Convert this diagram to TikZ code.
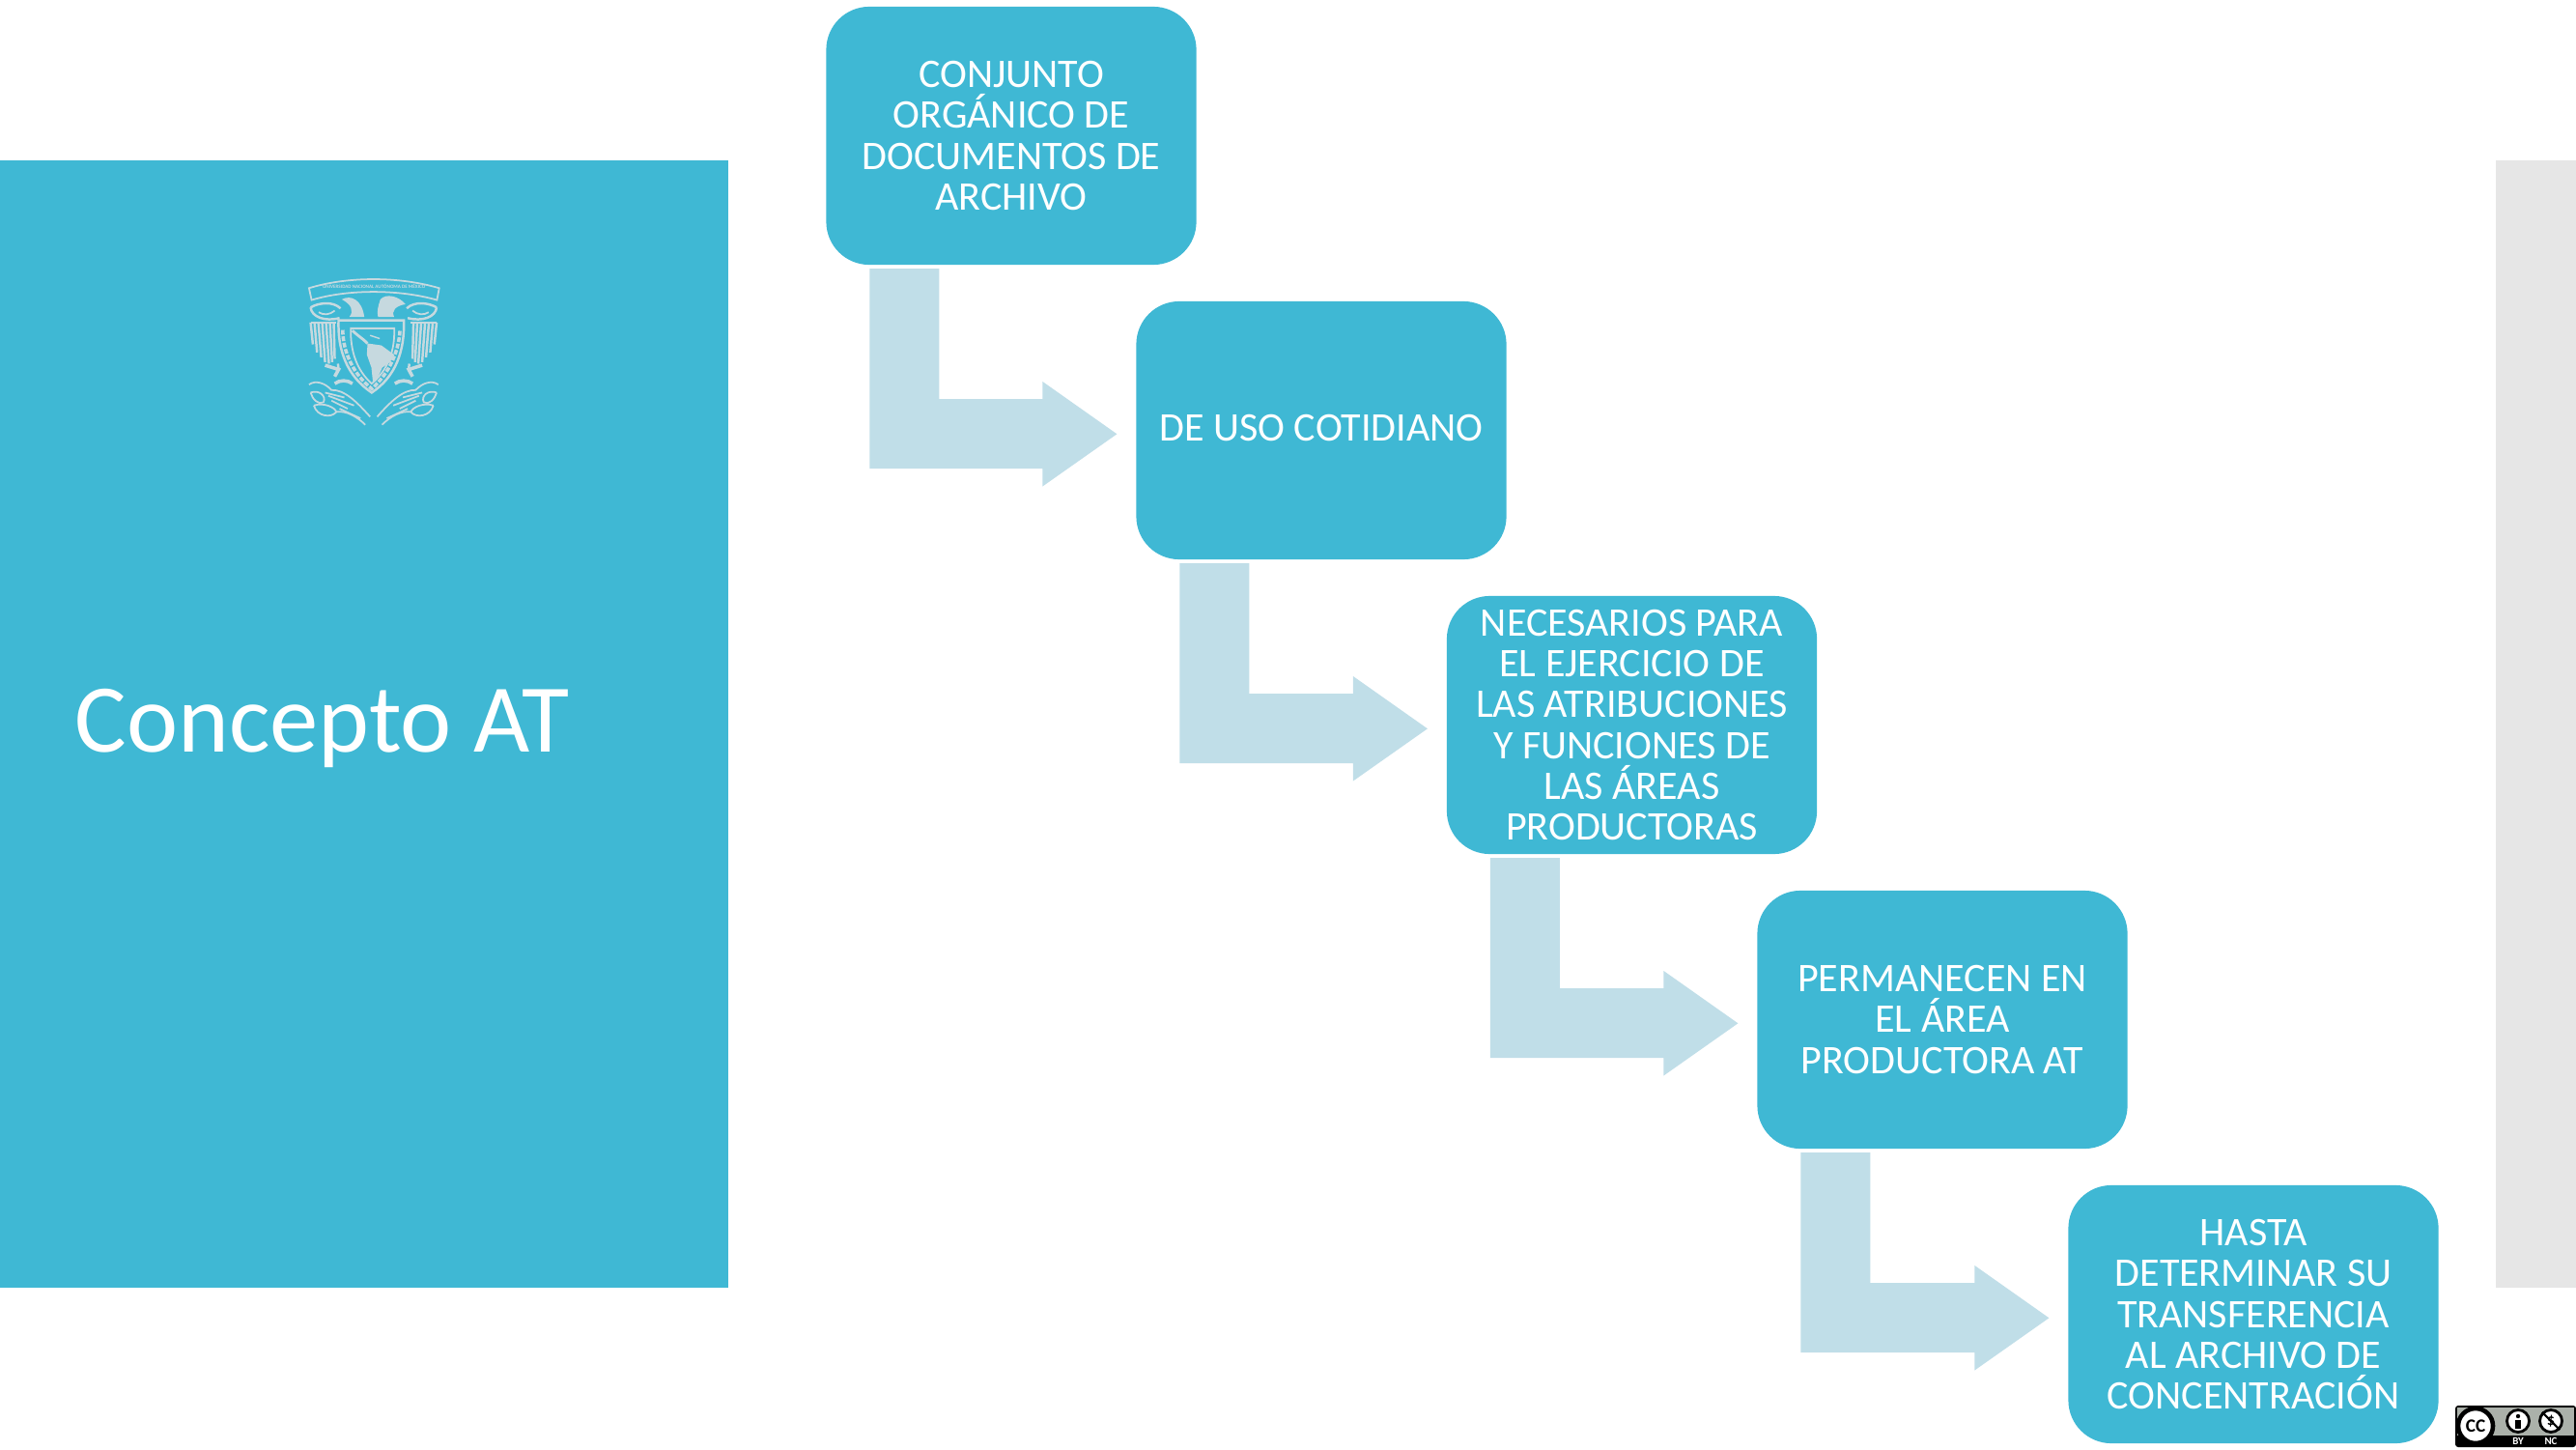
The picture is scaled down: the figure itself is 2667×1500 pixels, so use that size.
\documentclass[tikz,border=0pt]{standalone}
\usepackage{fontspec}
\setmainfont{Carlito}
\usetikzlibrary{calc}
\definecolor{panelblue}{HTML}{3FB8D4}
\definecolor{arrowblue}{HTML}{C0DEE8}
\definecolor{sidegrey}{HTML}{E6E6E6}
\definecolor{crest}{HTML}{C6D9DF}
\definecolor{ccgrey}{HTML}{ABB1AA}
\tikzset{
  stepbox/.style={fill=panelblue,rounded corners=0.445cm,minimum width=3.83cm,minimum height=2.67cm,
    inner sep=0pt,outer sep=0pt,text=white,align=center,font=\fontsize{11.95pt}{12.05pt}\selectfont},
  bentarrow/.style={fill=arrowblue,draw=none},
  crestline/.style={draw=crest,line width=0.5pt,fill=none},
  ccmark/.style={draw=black,fill=white,line width=0.8pt},
  cclabel/.style={text=white,inner sep=0pt,font=\fontsize{3.1pt}{3.5pt}\selectfont\bfseries}
}
\newcommand{\bentlink}[2]{%
  \fill[bentarrow]
    ($(#1.south west)+(45,4)$) -- ($(#1.south west)+(117,4)$) -- ($(#1.south west)+(117,139)$)
    -- ($(#2.west)+(-97,-32.5)$) -- ($(#2.west)+(-97,-50.5)$) -- ($(#2.west)+(-20,3.8)$)
    -- ($(#2.west)+(-97,58)$) -- ($(#2.west)+(-97,39.5)$) -- ($(#1.south west)+(45,211)$) -- cycle;
}
\newcommand{\halfcrest}{%
  % wing feathers
  \foreach \xa/\ya/\xb/\yb in {125/222/132/290,137/222/145/315,149/222/158/330,161/222/170/345,173/222/182/350,185/222/192/345,197/222/200/335}
    {\draw[crestline,line width=0.7pt] (\xa,\ya) -- (\xb,\yb);}
  \draw[crestline] (125,222) -- (205,222);
  % wing top swirl
  \draw[crestline,line width=0.7pt] (125,175) .. controls (150,160) and (195,155) .. (218,178);
  \draw[crestline,line width=0.7pt] (125,175) .. controls (128,205) and (170,220) .. (215,208);
  \draw[crestline] (150,190) .. controls (165,200) and (185,198) .. (200,185);
  % talon
  \draw[crestline,line width=1pt] (170,355) -- (212,368) -- (200,390);
  \draw[crestline,line width=0.7pt] (210,350) -- (212,368);
  % small blocks below shield
  \draw[crestline,line width=1pt] (200,412) .. controls (215,400) and (240,400) .. (255,412);
  % cactus
  \draw[crestline] (120,415) .. controls (140,400) and (170,410) .. (190,432) .. controls (230,430) and (270,470) .. (310,515);
  \draw[crestline] (125,440) .. controls (150,430) and (175,450) .. (165,470) .. controls (150,480) and (130,460) .. (125,440);
  \draw[crestline] (135,480) .. controls (165,470) and (200,485) .. (205,500) .. controls (190,520) and (145,515) .. (135,480);
  \draw[crestline] (205,500) .. controls (235,495) and (270,515) .. (295,540);
  \draw[crestline] (180,450) -- (260,480) (190,465) -- (240,490) (170,440) -- (230,455) (215,490) -- (280,520);
}
\begin{document}
\begin{tikzpicture}[x=0.01cm,y=-0.01cm]
\useasboundingbox (0,0) rectangle (2667,1500);
\fill[white] (0,0) rectangle (2667,1500);
\fill[panelblue] (0,166) rectangle (754,1333);
\fill[sidegrey] (2584,166) rectangle (2667,1333);
\node[anchor=west,text=white,inner sep=0pt,font=\fontsize{28.6pt}{30pt}\selectfont] (title) at (77,754) {Concepto AT};

% crest
\begin{scope}[shift={(280,260)},x=0.00333cm,y=-0.00333cm]
  \draw[crestline] (120,115) .. controls (240,78) and (400,78) .. (525,115) -- (518,152) .. controls (400,118) and (240,118) .. (128,152) -- cycle;
  \node[text=crest,inner sep=0pt,font=\fontsize{1.45pt}{2pt}\selectfont\bfseries] (motto) at (322,110) {UNIVERSIDAD NACIONAL AUTÓNOMA DE MÉXICO};
  \halfcrest
  \begin{scope}[xscale=-1,shift={(-642,0)}]
    \halfcrest
  \end{scope}
  % eagle
  \fill[crest] (222,150) .. controls (250,135) and (285,150) .. (292,205) -- (245,205) .. controls (262,185) and (250,165) .. (222,150) -- cycle;
  % condor
  \fill[crest] (420,165) .. controls (400,140) and (360,130) .. (342,150) .. controls (335,170) and (330,190) .. (335,205) -- (385,205) .. controls (375,185) and (390,170) .. (420,165) -- cycle;
  % shield
  \draw[crestline,line width=0.7pt] (212,215) -- (415,215) .. controls (418,310) and (390,390) .. (315,440) .. controls (240,390) and (208,310) .. (212,215) -- cycle;
  \draw[crestline] (250,240) -- (385,240) .. controls (388,310) and (365,370) .. (315,412) .. controls (268,370) and (248,310) .. (250,240) -- cycle;
  \draw[crestline,line width=1pt,dash pattern=on 1.4pt off 0.5pt] (225,245) .. controls (225,310) and (255,380) .. (315,428) .. controls (370,380) and (400,310) .. (403,245);
  % map
  \fill[crest] (302,287) -- (345,293) -- (385,322) -- (372,345) -- (348,362) -- (333,395) -- (319,410) -- (314,362) -- (300,322) -- cycle;
  \draw[crest,line width=0.8pt] (255,247) .. controls (270,262) and (285,270) .. (302,287);
  \draw[crest,line width=0.4pt] (310,262) -- (340,272);
\end{scope}

% steps
\node[stepbox] (s1) at (1047,140.5) {\raisebox{2.2pt}{\parbox{3.8cm}{\centering CONJUNTO\\ORGÁNICO DE\\DOCUMENTOS DE\\ARCHIVO}}};
\node[stepbox] (s2) at (1368,445.5) {\raisebox{1.6pt}{DE USO COTIDIANO}};
\node[stepbox] (s3) at (1689.5,750.5) {\raisebox{1.8pt}{\parbox{3.8cm}{\centering NECESARIOS PARA\\EL EJERCICIO DE\\LAS ATRIBUCIONES\\Y FUNCIONES DE\\LAS ÁREAS\\PRODUCTORAS}}};
\node[stepbox] (s4) at (2011,1055.5) {\raisebox{1.6pt}{\parbox{3.8cm}{\centering PERMANECEN EN\\EL ÁREA\\PRODUCTORA AT}}};
\node[stepbox] (s5) at (2333,1360.5) {\raisebox{1.6pt}{\parbox{3.8cm}{\centering HASTA\\DETERMINAR SU\\TRANSFERENCIA\\AL ARCHIVO DE\\CONCENTRACIÓN}}};

\bentlink{s1}{s2}
\bentlink{s2}{s3}
\bentlink{s3}{s4}
\bentlink{s4}{s5}

% licence badge
\fill[black,rounded corners=0.03cm] (2542,1455) rectangle (2667,1498);
\fill[ccgrey] (2544,1457) rectangle (2665,1486);
\node[circle,ccmark,minimum size=0.36cm,inner sep=0pt,line width=1.3pt,font=\fontsize{5.5pt}{6pt}\selectfont\bfseries] (cc) at (2563,1476) {CC};
\node[circle,ccmark,minimum size=0.23cm,inner sep=0pt] (by) at (2607,1471) {};
\fill[black] (2607,1466) circle (2.2);
\fill[black] (2604,1469.5) rectangle (2610,1479);
\node[circle,ccmark,minimum size=0.23cm,inner sep=0pt,font=\fontsize{4.6pt}{5pt}\selectfont\bfseries] (nc) at (2641,1471) {\$};
\draw[black,line width=0.6pt] (nc.north west) -- (nc.south east);
\node[cclabel] (bylabel) at (2607,1492) {BY};
\node[cclabel] (nclabel) at (2641,1492) {NC};
\end{tikzpicture}
\end{document}
